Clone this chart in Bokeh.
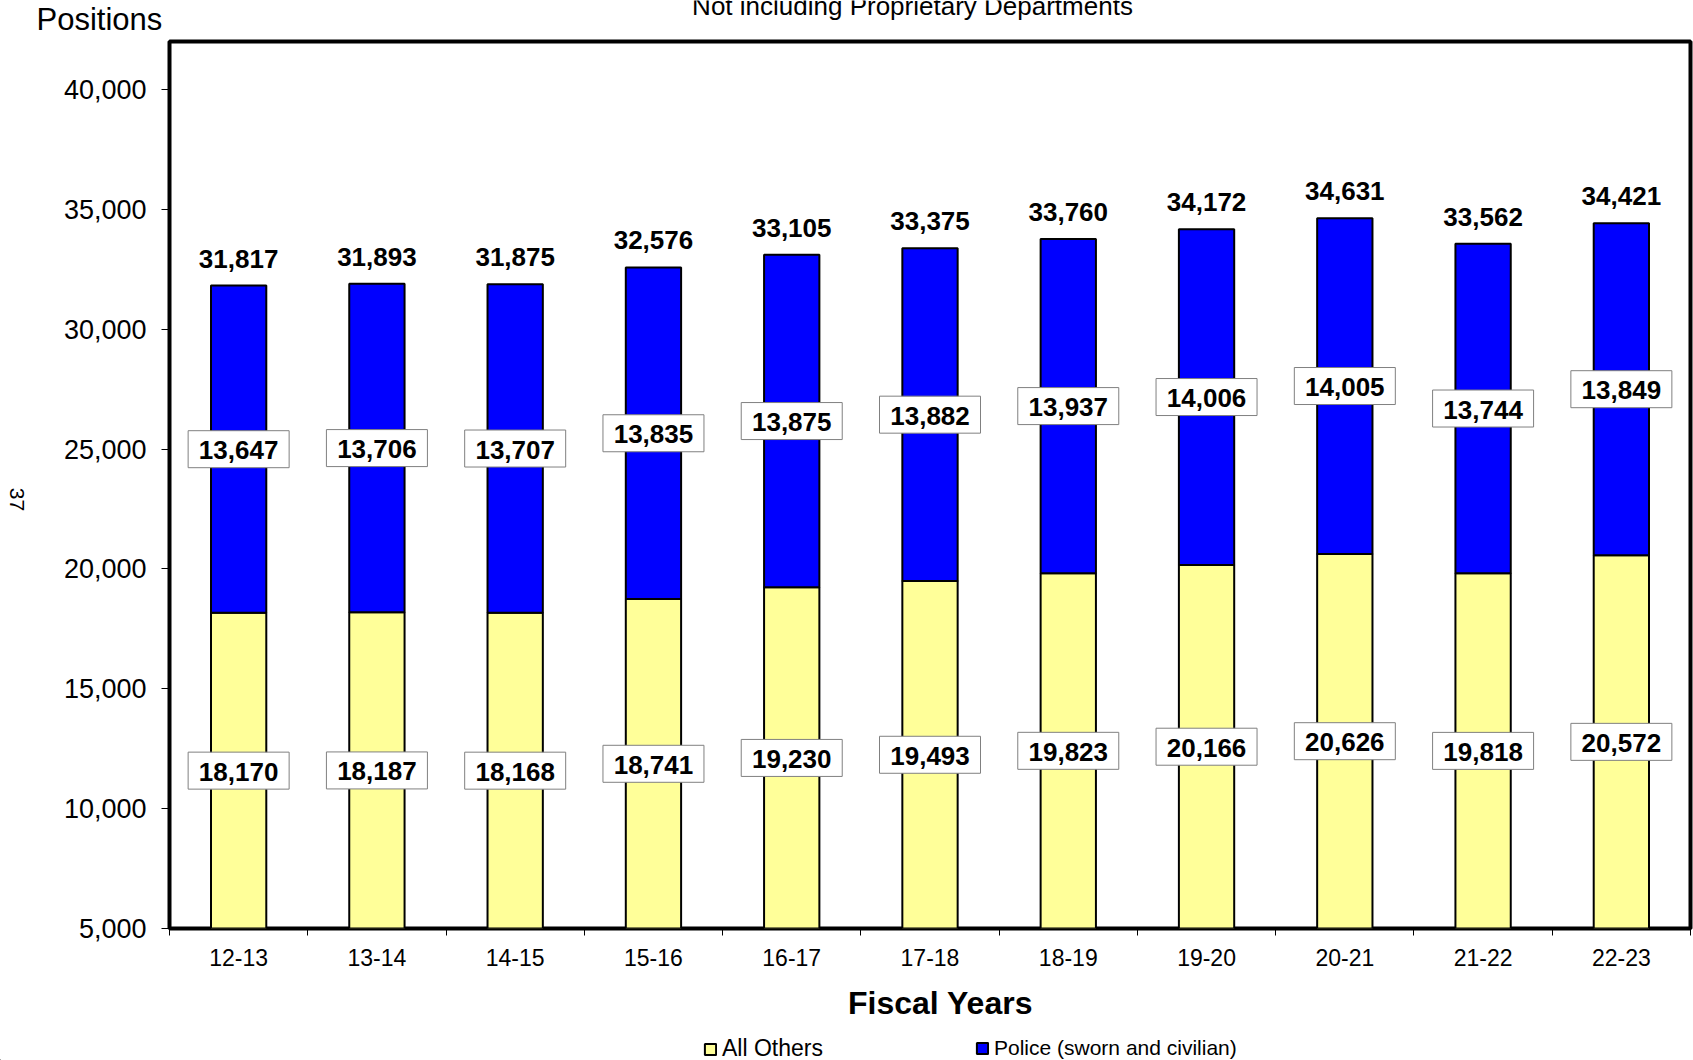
import math
from bokeh.plotting import figure
from bokeh.layouts import column, row
from bokeh.models import (ColumnDataSource, Range1d, FixedTicker, NumeralTickFormatter,
                          Legend, LegendItem)
from bokeh.core.properties import value
from bokeh.embed import file_html
from bokeh.resources import INLINE

# ---------------- data ----------------
years = ["12-13", "13-14", "14-15", "15-16", "16-17", "17-18",
         "18-19", "19-20", "20-21", "21-22", "22-23"]
all_others = [18170, 18187, 18168, 18741, 19230, 19493, 19823, 20166, 20626, 19818, 20572]
police = [13647, 13706, 13707, 13835, 13875, 13882, 13937, 14006, 14005, 13744, 13849]
y_ticks = [5000, 10000, 15000, 20000, 25000, 30000, 35000, 40000]
series_names = ["All Others", "Police (sworn and civilian)"]
series_colors = ["#FFFF99", "#0000FF"]

FONT = "Liberation Sans"
Y_MIN, Y_MAX = 5000, 42000
W, H = 1693, 1060
TOP_H, LEFT_W, BOT_H = 38, 30, 85
MAIN_H = H - TOP_H - BOT_H
FRAME_TOP, FRAME_BOTTOM, FRAME_LEFT = 41, 928, 169

n = len(years)
xc = [i + 0.5 for i in range(n)]
totals = [a + b for a, b in zip(all_others, police)]
src = ColumnDataSource(dict(
    x=xc,
    others=all_others,
    police=police,
    total=totals,
    zero=[0] * n,
    mid_o=[(Y_MIN + a) / 2 for a in all_others],
    mid_p=[a + b / 2 for a, b in zip(all_others, police)],
    lab_o=[f"{v:,}" for v in all_others],
    lab_p=[f"{v:,}" for v in police],
    lab_t=[f"{v:,}" for v in totals],
))

# ---------------- main chart ----------------
p = figure(width=W - LEFT_W, height=MAIN_H, output_backend="svg", toolbar_location=None,
           x_range=Range1d(0, n), y_range=Range1d(Y_MIN, Y_MAX),
           min_border_left=FRAME_LEFT - LEFT_W, min_border_right=3,
           min_border_top=FRAME_TOP - TOP_H,
           min_border_bottom=(TOP_H + MAIN_H) - FRAME_BOTTOM)
p.background_fill_color = "white"
p.border_fill_color = "white"
p.outline_line_color = "black"
p.outline_line_width = 4
p.xgrid.visible = False
p.ygrid.visible = False

p.vbar(x="x", bottom="zero", top="others", width=0.4, source=src,
       fill_color=series_colors[0], line_color="black", line_width=2)
p.vbar(x="x", bottom="others", top="total", width=0.4, source=src,
       fill_color=series_colors[1], line_color="black", line_width=2)

for ycol, tcol in (("mid_o", "lab_o"), ("mid_p", "lab_p")):
    p.rect(x="x", y=ycol, width=101, height=37, width_units="screen", height_units="screen",
           source=src, fill_color="white", line_color="#808080", line_width=1)
    p.text(x="x", y=ycol, text=tcol, source=src, text_font=value(FONT),
           text_font_style="bold", text_font_size="26px", text_align="center",
           text_baseline="middle", text_color="black", y_offset=1)

p.text(x="x", y="total", text="lab_t", source=src, text_font=value(FONT),
       text_font_style="bold", text_font_size="26px", text_align="center",
       text_baseline="alphabetic", text_color="black", y_offset=-27)

xa = p.xaxis[0]
xa.ticker = FixedTicker(ticks=xc, minor_ticks=list(range(n + 1)))
xa.major_label_overrides = {x: y for x, y in zip(xc, years)}
xa.major_tick_out = 0
xa.major_tick_in = 0
xa.minor_tick_out = 7
xa.minor_tick_in = 0
xa.minor_tick_line_color = "black"
xa.axis_line_color = None
xa.major_label_standoff = 13
xa.major_label_text_font = FONT
xa.major_label_text_font_size = "23px"
xa.major_label_text_color = "black"

ya = p.yaxis[0]
ya.ticker = FixedTicker(ticks=y_ticks)
ya.formatter = NumeralTickFormatter(format="0,0")
ya.major_tick_out = 8
ya.major_tick_in = 0
ya.minor_tick_line_color = None
ya.axis_line_color = None
ya.major_tick_line_color = "black"
ya.major_label_standoff = 15
ya.major_label_text_font = FONT
ya.major_label_text_font_size = "27px"
ya.major_label_text_color = "black"


# ---------------- text strips ----------------
def text_fig(w, h, y0=0, y1=None):
    f = figure(width=w, height=h, output_backend="svg", toolbar_location=None,
               x_range=Range1d(0, w), y_range=Range1d(y0, h if y1 is None else y1),
               min_border=0, x_axis_location=None, y_axis_location=None)
    f.outline_line_color = None
    f.grid.visible = False
    f.background_fill_color = "white"
    f.border_fill_color = "white"
    return f


top = text_fig(W, TOP_H)
top.text(x=[36], y=[TOP_H - 19], text=["Positions"], text_font=value(FONT),
         text_font_size="31px", text_align="left", text_baseline="middle", text_color="black")
top.text(x=[912], y=[TOP_H - 5], text=["Not including Proprietary Departments"],
         text_font=value(FONT), text_font_size="26px", text_align="center",
         text_baseline="alphabetic", text_color="black")

# left strip: its frame lines up with the chart frame (canvas rows 41..928)
left = text_fig(LEFT_W, MAIN_H, -FRAME_BOTTOM, -FRAME_TOP)
left.text(x=[16], y=[-499], text=["37"], text_font=value(FONT),
          text_font_size="21px", text_align="center", text_baseline="middle",
          text_color="black", angle=-math.pi / 2)

# bottom strip: axis title and legend (swatches styled like the bars; the swatch
# renderers hold no visible data)
bot = text_fig(W, BOT_H)
bot.text(x=[940], y=[H - 1002], text=["Fiscal Years"], text_font=value(FONT),
         text_font_size="32px", text_font_style="bold", text_align="center",
         text_baseline="middle", text_color="black")
leg_specs = [(703, "23px", -2), (975, "21px", 0)]
for name, color, (gx, fsize, gy) in zip(series_names, series_colors, leg_specs):
    r = bot.vbar(x=[-5000], bottom=[-5001], top=[-5000], width=1, fill_color=color,
                 line_color="black", line_width=2)
    bot.add_layout(Legend(items=[LegendItem(label=name, renderers=[r])],
                          location=(gx, gy), orientation="horizontal",
                          padding=0, margin=0, spacing=0, border_line_color=None,
                          background_fill_alpha=0, glyph_width=14, glyph_height=14,
                          label_standoff=5, label_height=14, label_text_font=FONT,
                          label_text_font_size=fsize, label_text_color="black"), "center")

layout = column(top, row(left, p, spacing=0), bot, spacing=0)
open("out.html", "w").write(file_html(layout, INLINE))
